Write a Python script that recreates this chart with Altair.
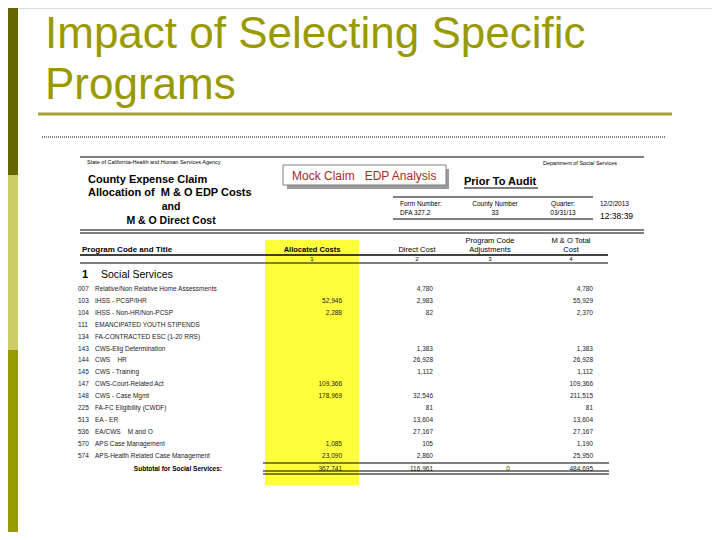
import altair as alt
import pandas as pd

# ---------------- data ----------------
title_lines = ["Impact of Selecting Specific", "Programs"]

NB = "\u00a0"
codes = ["007", "103", "104", "111", "134", "143", "144", "145", "147", "148",
         "225", "513", "536", "570", "574"]
titles = ["Relative/Non Relative Home Assessments", "IHSS - PCSP/IHR", "IHSS - Non-HR/Non-PCSP",
          "EMANCIPATED YOUTH STIPENDS", "FA-CONTRACTED ESC (1-20 RRS)", "CWS-Elig Determination",
          "CWS" + NB * 4 + "HR", "CWS - Training", "CWS-Court-Related Act", "CWS - Case Mgmt",
          "FA-FC Eligibility (CWDF)", "EA - ER", "EA/CWS" + NB * 4 + "M and O", "APS Case Management",
          "APS-Health Related Case Management"]
allocated = [None, 52946, 2288, None, None, None, None, None, 109366, 178969,
             None, None, None, 1085, 23090]
direct = [4780, 2983, 82, None, None, 1383, 26928, 1112, None, 32546,
          81, 13604, 27167, 105, 2860]
total = [4780, 55929, 2370, None, None, 1383, 26928, 1112, 109366, 211515,
         81, 13604, 27167, 1190, 25950]
subtotal_label = "Subtotal for Social Services:"
subtotal = ["367,741", "116,961", "0", "484,695"]

col_headers = [["Allocated Costs"], ["Direct Cost"], ["Program Code", "Adjustments"], ["M & O Total", "Cost"]]
col_numbers = ["1", "2", "3", "4"]

FONT = "Liberation Sans"
X = alt.Scale(domain=[8, 712], nice=False, zero=False)
Y = alt.Scale(domain=[8, 532], nice=False, zero=False, reverse=True)


def rects(rows):
    df = pd.DataFrame(rows, columns=["x", "x2", "y", "y2", "c"])
    return alt.Chart(df).mark_rect().encode(
        x=alt.X("x:Q", scale=X, axis=None), x2="x2:Q",
        y=alt.Y("y:Q", scale=Y, axis=None), y2="y2:Q",
        color=alt.Color("c:N", scale=None))


def rules(rows, dash=None):
    df = pd.DataFrame(rows, columns=["x", "x2", "y", "y2", "w", "c"])
    kw = {}
    if dash:
        kw["strokeDash"] = dash
    return alt.Chart(df).mark_rule(**kw).encode(
        x=alt.X("x:Q", scale=X, axis=None), x2="x2:Q",
        y=alt.Y("y:Q", scale=Y, axis=None), y2="y2:Q",
        size=alt.Size("w:Q", scale=None),
        color=alt.Color("c:N", scale=None))


def texts(rows, size, align="left", weight="normal", color="#000000",
          baseline="middle", font=FONT):
    df = pd.DataFrame(rows, columns=["x", "y", "t"])
    return alt.Chart(df).mark_text(align=align, baseline=baseline, fontSize=size,
                                   fontWeight=weight, font=font, color=color).encode(
        x=alt.X("x:Q", scale=X, axis=None),
        y=alt.Y("y:Q", scale=Y, axis=None),
        text="t:N")


layers = []

# slide sidebar
layers.append(rects([[0, 18, 0, 175, "#666600"], [0, 18, 175, 350, "#CCCC66"],
                     [0, 18, 350, 540, "#999900"]]))

# slide title
layers.append(texts([[45, 48 + i * 51, t] for i, t in enumerate(title_lines)], 44,
                    color="#999900", baseline="alphabetic"))
layers.append(rules([[38, 672, 114, 114, 3, "#A3A33A"]]))
layers.append(rules([[42, 665, 137, 137, 1.2, "#000000"]], dash=[1, 1]))

# yellow highlight of the allocated column
layers.append(rects([[265, 359, 240, 485, "#FFFF3C"]]))

# mock-claim box with shadow
layers.append(rects([[287, 449, 169, 189, "#9A9A9A"], [283, 446, 165, 185, "#FFFFFF"]]))
layers.append(rules([[283, 446, 165, 165, 1, "#7F7F7F"], [283, 446, 185, 185, 1, "#7F7F7F"],
                     [283, 283, 165, 185, 1, "#7F7F7F"], [446, 446, 165, 185, 1, "#7F7F7F"]]))
layers.append(texts([[292, 176, "Mock Claim" + NB * 3 + "EDP Analysis"]], 12, color="#A52A2A"))

# header lines
hl = [[80, 644, 157, 157, 1.2, "#000000"],
      [80, 644, 230, 230, 1.2, "#000000"], [80, 644, 233, 233, 1.2, "#000000"],
      [393, 593, 197, 197, 1, "#000000"], [393, 593, 219, 219, 1, "#000000"],
      [464, 538, 188, 188, 1, "#000000"],
      [80, 608, 255, 255, 1.5, "#000000"], [80, 608, 263, 263, 1, "#000000"],
      [263, 609, 463, 463, 1.2, "#000000"],
      [263, 609, 471, 471, 1.2, "#000000"], [263, 609, 474, 474, 1.2, "#000000"]]
layers.append(rules(hl))

# header texts
layers.append(texts([[87, 162, "State of California-Health and Human Services Agency"],
                     [543, 163, "Department of Social Services"]], 5.5))
layers.append(texts([[88, 180, "County Expense Claim"],
                     [88, 193, "Allocation of" + NB * 2 + "M & O EDP Costs"]], 11, weight="bold"))
layers.append(texts([[171, 207, "and"], [171, 221, "M & O Direct Cost"]], 10.5,
                    align="center", weight="bold"))
layers.append(texts([[464, 182, "Prior To Audit"]], 11, weight="bold"))
layers.append(texts([[400, 204, "Form Number:"], [400, 213, "DFA 327.2"],
                     [600, 204, "12/2/2013"]], 6.5))
layers.append(texts([[495, 204, "County Number"], [495, 213, "33"],
                     [563, 204, "Quarter:"], [563, 213, "03/31/13"]], 6.5, align="center"))
layers.append(texts([[600, 216, "12:38:39"]], 8.5))

# column headers
col_x = [312, 417, 490, 571]
layers.append(texts([[82, 250, "Program Code and Title"]], 8, weight="bold"))
hdr = []
for cx, lines in zip(col_x, col_headers):
    for j, ln in enumerate(lines):
        hdr.append([cx, 250 - (len(lines) - 1 - j) * 9, ln])
layers.append(texts([hdr[0]], 7.5, align="center", weight="bold"))
layers.append(texts(hdr[1:], 7.5, align="center"))
layers.append(texts([[cx, 259, n] for cx, n in zip(col_x, col_numbers)], 6, align="center"))

# section heading
layers.append(texts([[82, 275, "1"]], 11, weight="bold"))
layers.append(texts([[101, 275, "Social Services"]], 10.5))

# body rows
y0, step = 289, 11.9
left_rows, num_rows = [], []
for i, (c, t) in enumerate(zip(codes, titles)):
    y = y0 + i * step
    left_rows.append([78, y, c])
    left_rows.append([95, y, t])
    for xr, v in zip([342, 433, 593], [allocated[i], direct[i], total[i]]):
        if v is not None:
            num_rows.append([xr, y, f"{v:,}"])
layers.append(texts(left_rows, 6.5, color="#222222"))
num_rows += [[342, 469, subtotal[0]], [433, 469, subtotal[1]], [593, 469, subtotal[3]]]
layers.append(texts(num_rows, 6.5, align="right", color="#222222"))
layers.append(texts([[508, 469, subtotal[2]]], 6.5, align="center", color="#222222"))
layers.append(texts([[222, 469, subtotal_label]], 6.5, align="right", weight="bold"))

chart = alt.layer(*layers).properties(
    width=704, height=524, padding=0,
    autosize=alt.AutoSizeParams(type="none")
).configure_view(strokeWidth=0).configure(background="#FFFFFF")

chart.save("out.html", embed_options={"renderer": "svg", "actions": False})
